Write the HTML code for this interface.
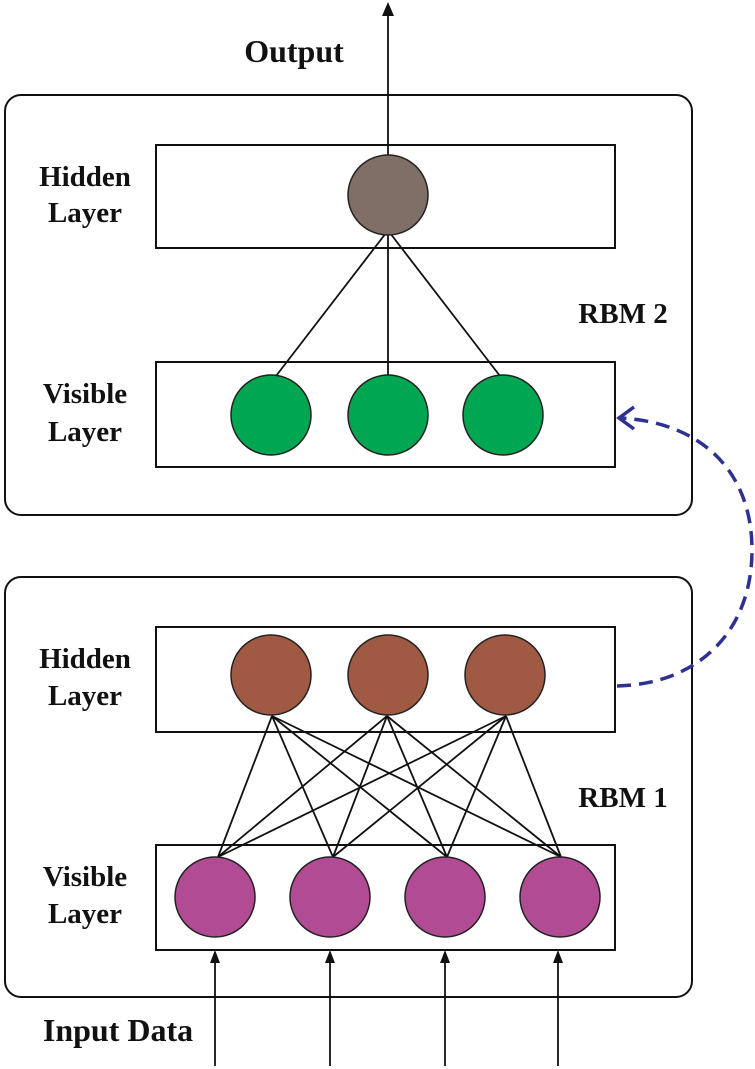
<!DOCTYPE html>
<html><head><meta charset="utf-8"><style>
html,body{margin:0;padding:0;background:#fff}
svg{display:block}
text{font-family:"Liberation Serif",serif;font-weight:bold;fill:#111}
</style></head><body>
<svg width="755" height="1069" viewBox="0 0 755 1069" xmlns="http://www.w3.org/2000/svg">
<g fill="none" stroke="#111" stroke-width="2">
<rect x="5" y="95" width="687" height="420" rx="16"/>
<rect x="156" y="145" width="459" height="103"/>
<rect x="156" y="362" width="459" height="105"/>
<rect x="5" y="577" width="687" height="420" rx="16"/>
<rect x="156" y="627" width="459" height="105"/>
<rect x="156" y="845" width="459" height="105"/>
</g>
<g stroke="#111" stroke-width="1.8">
<line x1="388" y1="155" x2="388" y2="14"/>
<line x1="386" y1="233" x2="276" y2="376"/>
<line x1="388" y1="235" x2="388" y2="375"/>
<line x1="390" y1="233" x2="500" y2="376"/>
<line x1="272" y1="716" x2="218" y2="857"/><line x1="272" y1="716" x2="333" y2="857"/><line x1="272" y1="716" x2="447" y2="857"/><line x1="272" y1="716" x2="561" y2="857"/>
<line x1="387" y1="716" x2="218" y2="857"/><line x1="387" y1="716" x2="333" y2="857"/><line x1="387" y1="716" x2="447" y2="857"/><line x1="387" y1="716" x2="561" y2="857"/>
<line x1="506" y1="716" x2="218" y2="857"/><line x1="506" y1="716" x2="333" y2="857"/><line x1="506" y1="716" x2="447" y2="857"/><line x1="506" y1="716" x2="561" y2="857"/>
<line x1="215" y1="1066" x2="215" y2="960"/>
<line x1="330" y1="1066" x2="330" y2="960"/>
<line x1="445" y1="1066" x2="445" y2="960"/>
<line x1="558" y1="1066" x2="558" y2="960"/>
</g>
<g fill="#111">
<path d="M388,2 L382,16 L394,16 Z"/>
<path d="M215,950 L210,963 L220,963 Z"/>
<path d="M330,950 L325,963 L335,963 Z"/>
<path d="M445,950 L440,963 L450,963 Z"/>
<path d="M558,950 L553,963 L563,963 Z"/>
</g>
<g stroke="#222" stroke-width="1.5">
<circle cx="388" cy="195" r="40" fill="#7f6f67"/>
<circle cx="271" cy="415" r="40" fill="#00a651"/>
<circle cx="388" cy="415" r="40" fill="#00a651"/>
<circle cx="503" cy="415" r="40" fill="#00a651"/>
<circle cx="271" cy="675" r="40" fill="#a05a44"/>
<circle cx="388" cy="675" r="40" fill="#a05a44"/>
<circle cx="505" cy="675" r="40" fill="#a05a44"/>
<circle cx="215" cy="897" r="40" fill="#b04b94"/>
<circle cx="330" cy="897" r="40" fill="#b04b94"/>
<circle cx="445" cy="897" r="40" fill="#b04b94"/>
<circle cx="560" cy="897" r="40" fill="#b04b94"/>
</g>
<path d="M617,686 C700,684 752,630 752,550 C752,470 700,422 620,418" fill="none" stroke="#2e3192" stroke-width="3.5" stroke-dasharray="14,8"/>
<path d="M634,407 L619,418 L634,429" fill="none" stroke="#2e3192" stroke-width="3.5"/>
<text x="294" y="62" font-size="32" text-anchor="middle">Output</text>
<text x="85" y="186" font-size="29" text-anchor="middle">Hidden</text>
<text x="85" y="222" font-size="29" text-anchor="middle">Layer</text>
<text x="85" y="403" font-size="29" text-anchor="middle">Visible</text>
<text x="85" y="441" font-size="29" text-anchor="middle">Layer</text>
<text x="623" y="323" font-size="29" text-anchor="middle">RBM 2</text>
<text x="85" y="668" font-size="29" text-anchor="middle">Hidden</text>
<text x="85" y="705" font-size="29" text-anchor="middle">Layer</text>
<text x="623" y="807" font-size="29" text-anchor="middle">RBM 1</text>
<text x="85" y="886" font-size="29" text-anchor="middle">Visible</text>
<text x="85" y="923" font-size="29" text-anchor="middle">Layer</text>
<text x="118" y="1041" font-size="32" text-anchor="middle">Input Data</text>
</svg>
</body></html>
